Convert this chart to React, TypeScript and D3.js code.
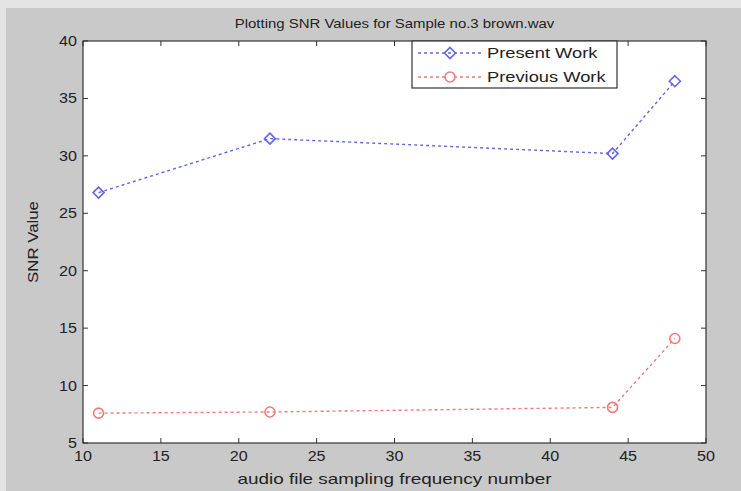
import React from "react";
import * as d3 from "d3";

// values
const freqs = [11, 22, 44, 48];
const presentWork = [26.8, 31.5, 30.2, 36.5];
const previousWork = [7.6, 7.7, 8.1, 14.1];
const xTicks = [10, 15, 20, 25, 30, 35, 40, 45, 50];
const yTicks = [5, 10, 15, 20, 25, 30, 35, 40];
const seriesNames = ["Present Work", "Previous Work"];

const W = 741;
const H = 491;
const margin = { top: 41, right: 35, bottom: 48, left: 83 };
const FONT = "'Liberation Sans', Arial, sans-serif";
const BLUE = "#6464e6";
const RED = "#f07a7a";

// text stretched sideways a bit, the way the scanned figure looks
function Txt({ x, y, anchor = "middle", size = 13, sx = 1.15, rotate = 0, children }: any) {
  return (
    <text
      transform={`translate(${x},${y}) rotate(${rotate}) scale(${sx},1)`}
      textAnchor={anchor}
      fontFamily={FONT}
      fontSize={size}
      fill="#222"
    >
      {children}
    </text>
  );
}

function Diamond({ x, y, r = 5.5, color }: any) {
  return (
    <path
      d={`M${x},${y - r}L${x + r},${y}L${x},${y + r}L${x - r},${y}Z`}
      fill="none"
      stroke={color}
      strokeWidth={1.6}
    />
  );
}

export default function App() {
  const x = d3.scaleLinear().domain([10, 50]).range([margin.left, W - margin.right]);
  const y = d3.scaleLinear().domain([5, 40]).range([H - margin.bottom, margin.top]);
  const line = d3
    .line<number>()
    .x((_, i) => x(freqs[i]))
    .y((d) => y(d));

  const x0 = x(10), x1 = x(50), y0 = y(5), y1 = y(40);
  const cx = (x0 + x1) / 2;
  const tick = 5;

  // legend box
  const lg = { x: 412, y: y1, w: 205, h: 47 };

  return (
    <svg width={W} height={H} style={{ position: "absolute", left: 0, top: 0 }}>
      <rect x={0} y={0} width={W} height={H} fill="#e4e4e4" />
      <rect x={6} y={8} width={W - 6} height={H - 8} fill="#c9c9c9" />

      <rect x={x0} y={y1} width={x1 - x0} height={y0 - y1} fill="#fff" />

      {/* ticks, inside, on all four sides */}
      <g stroke="#333" strokeWidth={1}>
        {xTicks.map((t) => (
          <g key={"xt" + t}>
            <line x1={x(t)} x2={x(t)} y1={y0} y2={y0 - tick} />
            <line x1={x(t)} x2={x(t)} y1={y1} y2={y1 + tick} />
          </g>
        ))}
        {yTicks.map((t) => (
          <g key={"yt" + t}>
            <line x1={x0} x2={x0 + tick} y1={y(t)} y2={y(t)} />
            <line x1={x1} x2={x1 - tick} y1={y(t)} y2={y(t)} />
          </g>
        ))}
      </g>

      {/* series */}
      <path d={line(presentWork) || ""} fill="none" stroke={BLUE} strokeWidth={1.4} strokeDasharray="3,3" />
      <path d={line(previousWork) || ""} fill="none" stroke={RED} strokeWidth={1.4} strokeDasharray="3,3" />
      {presentWork.map((v, i) => (
        <Diamond key={"p" + i} x={x(freqs[i])} y={y(v)} color={BLUE} />
      ))}
      {previousWork.map((v, i) => (
        <circle key={"q" + i} cx={x(freqs[i])} cy={y(v)} r={5} fill="none" stroke={RED} strokeWidth={1.6} />
      ))}

      <rect x={x0} y={y1} width={x1 - x0} height={y0 - y1} fill="none" stroke="#333" strokeWidth={1.2} />

      {/* tick labels */}
      {xTicks.map((t) => (
        <Txt key={"xl" + t} x={x(t)} y={y0 + 18} size={14}>{t}</Txt>
      ))}
      {yTicks.map((t) => (
        <Txt key={"yl" + t} x={x0 - 6} y={y(t) + 5} anchor="end" size={14}>{t}</Txt>
      ))}

      {/* titles */}
      <Txt x={cx} y={28} size={13}>Plotting SNR Values for Sample no.3 brown.wav</Txt>
      <Txt x={cx} y={y0 + 41} size={14} sx={1.35}>audio file sampling frequency number</Txt>
      <Txt x={38} y={(y0 + y1) / 2} rotate={-90} size={14} sx={1.2}>SNR Value</Txt>

      {/* legend */}
      <rect x={lg.x} y={lg.y} width={lg.w} height={lg.h} fill="#fff" stroke="#333" strokeWidth={1.2} />
      {seriesNames.map((name, i) => {
        const ly = lg.y + 12 + i * 24;
        const color = i === 0 ? BLUE : RED;
        return (
          <g key={name}>
            <line x1={lg.x + 6} x2={lg.x + 70} y1={ly} y2={ly} stroke={color} strokeWidth={1.4} strokeDasharray="3,3" />
            {i === 0 ? (
              <Diamond x={lg.x + 38} y={ly} color={color} />
            ) : (
              <circle cx={lg.x + 38} cy={ly} r={5} fill="#fff" stroke={color} strokeWidth={1.6} />
            )}
            <Txt x={lg.x + 75} y={ly + 5} anchor="start" size={15} sx={1.22}>{name}</Txt>
          </g>
        );
      })}
    </svg>
  );
}
